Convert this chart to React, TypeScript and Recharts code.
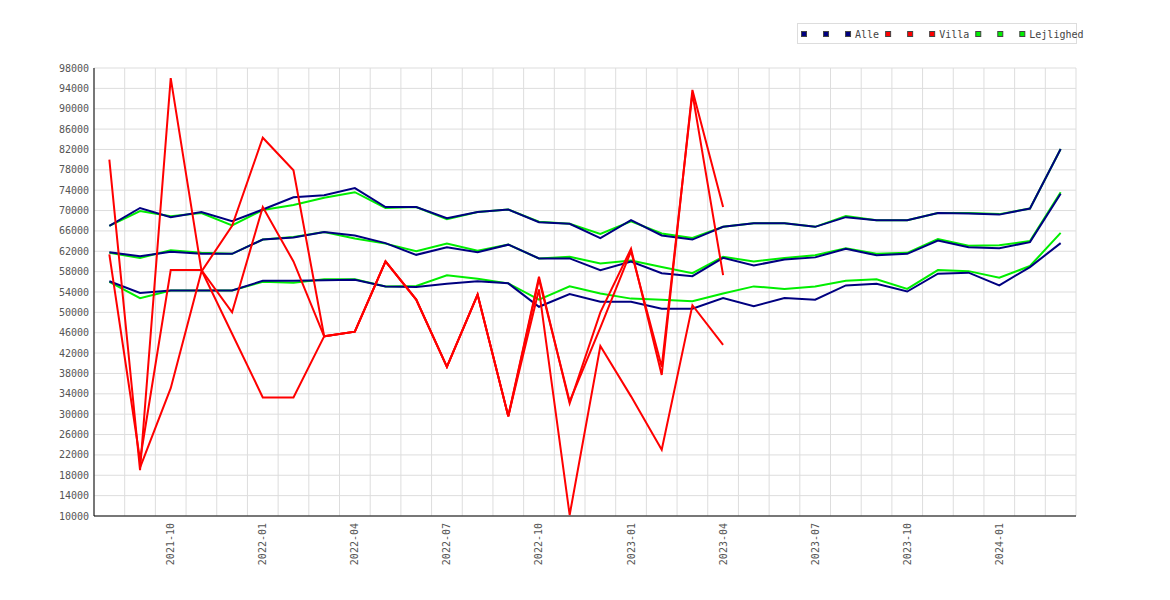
import React from 'react';
import { LineChart, Line, XAxis, YAxis, CartesianGrid, Legend } from 'recharts';

const categories = [
  '2021-08', '2021-09', '2021-10', '2021-11', '2021-12',
  '2022-01', '2022-02', '2022-03', '2022-04', '2022-05', '2022-06', '2022-07', '2022-08', '2022-09', '2022-10', '2022-11', '2022-12',
  '2023-01', '2023-02', '2023-03', '2023-04', '2023-05', '2023-06', '2023-07', '2023-08', '2023-09', '2023-10', '2023-11', '2023-12',
  '2024-01', '2024-02', '2024-03',
];

const yTicks = [
  10000, 14000, 18000, 22000, 26000, 30000, 34000, 38000, 42000, 46000, 50000, 54000,
  58000, 62000, 66000, 70000, 74000, 78000, 82000, 86000, 90000, 94000, 98000,
];

const alleHigh = [67000, 70500, 68700, 69700, 67900, 70200, 72600, 73000, 74400, 70700, 70700, 68500, 69700, 70200, 67700, 67400, 64600, 68100, 65100, 64300, 66800, 67500, 67500, 66800, 68700, 68100, 68100, 69500, 69400, 69200, 70400, 82100];
const alleMid = [61800, 61000, 61900, 61500, 61500, 64300, 64700, 65800, 65100, 63600, 61300, 62800, 61800, 63300, 60600, 60600, 58300, 60000, 57700, 57100, 60700, 59200, 60400, 60800, 62500, 61200, 61500, 64100, 62800, 62600, 63800, 73300];
const alleLow = [56100, 53800, 54300, 54300, 54300, 56200, 56200, 56300, 56400, 55100, 55000, 55600, 56100, 55700, 51100, 53600, 52100, 52100, 50700, 50700, 52800, 51200, 52800, 52500, 55300, 55600, 54100, 57600, 57800, 55300, 58900, 63600];

const villaA = [80000, 19000, 96000, 58300, 50000, 70700, 60000, 45300, 46200, 60000, 52500, 39300, 53500, 29600, 54500, 10200, 43400, 33500, 23000, 51400, 43600, null, null, null, null, null, null, null, null, null, null, null];
const villaB = [61400, 21000, 58300, 58300, 45800, 33300, 33300, 45300, 46200, 60000, 52500, 39300, 53500, 29600, 57000, 32100, 50000, 62500, 37700, 93700, 70700, null, null, null, null, null, null, null, null, null, null, null];
const villaC = [null, 19500, 35100, 58000, 67000, 84300, 77900, 45300, 46200, 60000, 52500, 39300, 53500, 29600, 56500, 32500, 47000, 62000, 39300, 93000, 57300, null, null, null, null, null, null, null, null, null, null, null];

const lejHigh = [67000, 69900, 68900, 69500, 67100, 70100, 71100, 72500, 73600, 70500, 70700, 68300, 69700, 70200, 67800, 67400, 65400, 67900, 65500, 64600, 66800, 67500, 67500, 66800, 68900, 68100, 68100, 69500, 69500, 69300, 70400, 82100];
const lejMid = [61700, 60700, 62200, 61700, 61500, 64300, 64800, 65800, 64500, 63500, 62000, 63500, 62100, 63300, 60600, 60900, 59600, 60200, 58900, 57700, 60900, 60000, 60700, 61200, 62600, 61500, 61700, 64400, 63100, 63200, 64000, 73600];
const lejLow = [56000, 52800, 54300, 54300, 54300, 56000, 55800, 56500, 56500, 55100, 55200, 57300, 56600, 55700, 52500, 55100, 53700, 52700, 52500, 52200, 53700, 55100, 54600, 55100, 56200, 56500, 54600, 58300, 58100, 56800, 59100, 65600];

const NAVY = '#000080';
const RED = '#ff0000';
const GREEN = '#00ee00';
const FONT = '"DejaVu Sans Mono", monospace';
const TEXT = '#555555';

type Series = { key: string; name: string; color: string; values: (number | null)[] };

const alleSeries: Series[] = [
  { key: 'alleLow', name: '', color: NAVY, values: alleLow },
  { key: 'alleMid', name: '', color: NAVY, values: alleMid },
  { key: 'alleHigh', name: 'Alle', color: NAVY, values: alleHigh },
];
const villaSeries: Series[] = [
  { key: 'villaA', name: '', color: RED, values: villaA },
  { key: 'villaB', name: '', color: RED, values: villaB },
  { key: 'villaC', name: 'Villa', color: RED, values: villaC },
];
const lejSeries: Series[] = [
  { key: 'lejLow', name: '', color: GREEN, values: lejLow },
  { key: 'lejMid', name: '', color: GREEN, values: lejMid },
  { key: 'lejHigh', name: 'Lejlighed', color: GREEN, values: lejHigh },
];

const legendOrder = [...alleSeries, ...villaSeries, ...lejSeries];
const drawOrder = [...lejSeries, ...alleSeries, ...villaSeries];

const data = categories.map((c, i) => {
  const row: Record<string, number | string | null> = { i, label: c };
  legendOrder.forEach((s) => {
    row[s.key] = s.values[i];
  });
  return row;
});

const xTickIdx = categories
  .map((c, i) => ({ c, i }))
  .filter(({ c }) => ['01', '04', '07', '10'].includes(c.slice(5)))
  .map(({ i }) => i);

const xBoundaries = Array.from({ length: categories.length + 1 }, (_, k) => k - 0.5);

const XTick = (props: any) => {
  const { x, y, payload } = props;
  const ty = y + 7;
  return (
    <text
      x={x}
      y={ty}
      transform={`rotate(-90, ${x}, ${ty})`}
      textAnchor="end"
      dominantBaseline="central"
      fontFamily={FONT}
      fontSize={10}
      fill={TEXT}
    >
      {categories[payload.value]}
    </text>
  );
};

const CHAR_W = 6.02;

const LegendBox = () => {
  let x = 4;
  const items = legendOrder.map((s) => {
    const label = s.name || ' ';
    const g = (
      <g key={s.key}>
        <rect x={x + 0.5} y={8.5} width={5} height={5} fill={s.color} stroke="#444" strokeWidth={1} />
        {s.name ? (
          <text x={x + 10} y={15} fontFamily={FONT} fontSize={10} fill="#444">
            {s.name}
          </text>
        ) : null}
      </g>
    );
    x += 6 + 4 + label.length * CHAR_W + 6;
    return g;
  });
  return (
    <svg width={300} height={21} style={{ display: 'block', overflow: 'visible' }}>
      <rect x={0.5} y={0.5} width={279} height={20} fill="#ffffff" stroke="#dddddd" />
      {items}
    </svg>
  );
};

export default function App() {
  return (
    <LineChart
      width={1160}
      height={590}
      data={data}
      margin={{ top: 60, right: 92, bottom: 22, left: 26 }}
      style={{ background: '#ffffff' }}
    >
      <CartesianGrid stroke="#dddddd" verticalValues={xBoundaries} horizontalValues={yTicks} />
      <XAxis
        dataKey="i"
        type="number"
        domain={[-0.5, categories.length - 0.5]}
        ticks={xTickIdx}
        interval={0}
        tick={(p: any) => <XTick {...p} />}
        tickLine={false}
        tickSize={0}
        tickMargin={0}
        axisLine={{ stroke: '#000000' }}
        height={60}
        allowDataOverflow
      />
      <YAxis
        type="number"
        domain={[10000, 98000]}
        ticks={yTicks}
        interval={0}
        tickLine={false}
        tickSize={0}
        tickMargin={5}
        axisLine={{ stroke: '#000000' }}
        width={60}
        tick={{ fontFamily: FONT, fontSize: 10, fill: TEXT }}
        allowDataOverflow
      />
      <Legend
        verticalAlign="middle"
        align="center"
        layout="horizontal"
        wrapperStyle={{ top: 15, left: 789, width: 300, height: 21 }}
        content={() => <LegendBox />}
      />
      {drawOrder.map((s) => (
        <Line
          key={s.key}
          type="linear"
          dataKey={s.key}
          name={s.name}
          stroke={s.color}
          strokeWidth={2}
          dot={false}
          activeDot={false}
          isAnimationActive={false}
          legendType="square"
        />
      ))}
    </LineChart>
  );
}
